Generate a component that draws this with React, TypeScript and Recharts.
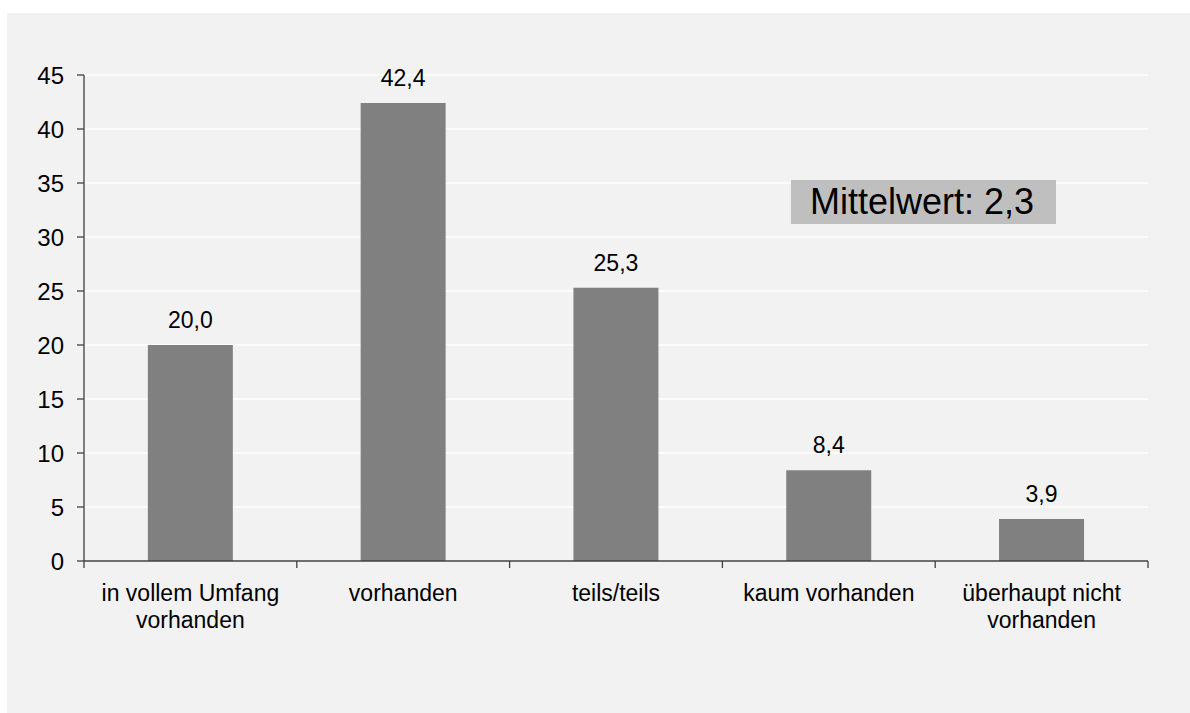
import { BarChart, Bar, XAxis, YAxis, CartesianGrid, LabelList } from "recharts";

const categories = [
  "in vollem Umfang\nvorhanden",
  "vorhanden",
  "teils/teils",
  "kaum vorhanden",
  "überhaupt nicht\nvorhanden",
];
const values = [20.0, 42.4, 25.3, 8.4, 3.9];
const yTicks = [0, 5, 10, 15, 20, 25, 30, 35, 40, 45];
const meanLabel = "Mittelwert: 2,3";

const FONT = "'Liberation Sans', Arial, sans-serif";

const data = categories.map((name, i) => ({ name, value: values[i] }));

const fmt = (v: number) => v.toFixed(1).replace(".", ",");

const CategoryTick = ({
  x,
  y,
  payload,
  index,
}: {
  x?: number;
  y?: number;
  index?: number;
  payload?: { value: string; offset?: number };
}) => {
  const lines = String(payload?.value ?? "").split("\n");
  const half = payload?.offset ?? 0;
  const cx = x ?? 0;
  const ay = y ?? 0;
  const last = index === categories.length - 1;
  return (
    <g>
      <line x1={cx - half} x2={cx - half} y1={ay} y2={ay + 7} stroke="#404040" strokeWidth={1.3} />
      {last && (
        <line x1={cx + half} x2={cx + half} y1={ay} y2={ay + 7} stroke="#404040" strokeWidth={1.3} />
      )}
      <text x={cx} y={ay + 40} textAnchor="middle" fontSize={23} fill="#000" fontFamily={FONT}>
        {lines.map((line, i) => (
          <tspan key={i} x={cx} dy={i === 0 ? 0 : 27}>
            {line}
          </tspan>
        ))}
      </text>
    </g>
  );
};

export default function App() {
  return (
    <div
      style={{
        position: "absolute",
        left: 7,
        top: 13,
        width: 1183,
        height: 700,
        background: "#f2f2f2",
        fontFamily: FONT,
      }}
    >
      <BarChart
        width={1183}
        height={700}
        data={data}
        margin={{ top: 62, right: 42, left: 0, bottom: 0 }}
        barCategoryGap="30%"
      >
        <CartesianGrid vertical={false} stroke="#ffffff" strokeWidth={1.5} />
        <XAxis
          dataKey="name"
          height={152}
          interval={0}
          axisLine={{ stroke: "#404040", strokeWidth: 1.3 }}
          tickLine={false}
          tickSize={0}
          tickMargin={0}
          tick={<CategoryTick />}
        />
        <YAxis
          width={77}
          domain={[0, 45]}
          ticks={yTicks}
          interval={0}
          tickSize={7}
          tickMargin={13}
          axisLine={{ stroke: "#404040", strokeWidth: 1.3 }}
          tickLine={{ stroke: "#404040", strokeWidth: 1.3 }}
          tick={{ fontSize: 24, fill: "#000", fontFamily: FONT }}
        />
        <Bar dataKey="value" fill="#808080" isAnimationActive={false}>
          <LabelList
            dataKey="value"
            position="top"
            offset={17}
            formatter={(v: number) => fmt(v)}
            style={{ fontSize: 23, fill: "#000", fontFamily: FONT }}
          />
        </Bar>
      </BarChart>
      <div
        style={{
          position: "absolute",
          left: 784,
          top: 167,
          width: 265,
          height: 44,
          background: "#bfbfbf",
          fontSize: 36,
          lineHeight: "44px",
          paddingLeft: 19,
          boxSizing: "border-box",
          color: "#000",
          whiteSpace: "nowrap",
        }}
      >
        {meanLabel}
      </div>
    </div>
  );
}
